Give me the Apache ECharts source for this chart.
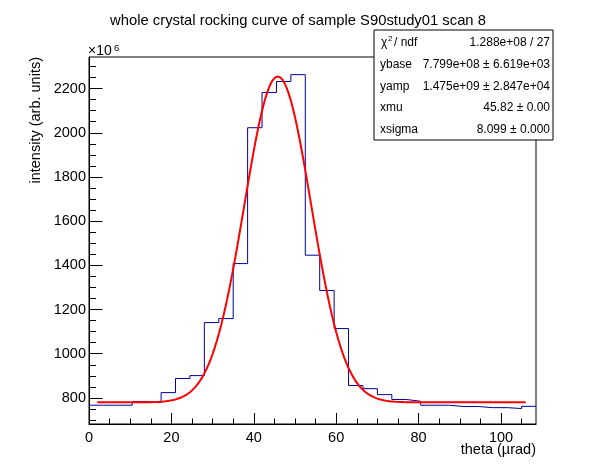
<!DOCTYPE html>
<html>
<head>
    <meta charset="UTF-8">
    <title>whole crystal rocking curve</title>
    <script src="https://cdn.jsdelivr.net/npm/echarts@6/dist/echarts.min.js"></script>
    <style>
        html, body { margin: 0; padding: 0; background: #fff; }
        #chart { width: 596px; height: 472px; }
    </style>
</head>
<body>
<div id="chart"></div>
<script type="text/javascript">
    // histogram: 31 bins of 3.5 urad starting at 0, values in units of 1e6
    var binStart = 0;
    var binWidth = 3.5;
    var binValues = [767, 767, 767, 784, 779, 824, 888, 901, 1141, 1159,
                     1408, 2023, 2182, 2232, 2263, 1446, 1286, 1114, 856, 842,
                     815, 793, 785, 767, 767, 761, 761, 756, 756, 752, 762];

    // gaussian fit parameters (from the stats box), amplitude in units of 1e6
    var ybase = 779.9;
    var yamp = 1475;
    var xmu = 45.82;
    var xsigma = 8.099;
    var fitFrom = 2;
    var fitTo = 106;

    var statNames = ['', 'ybase', 'yamp', 'xmu', 'xsigma'];
    var statValues = ['1.288e+08 / 27', '7.799e+08 \u00b1 6.619e+03', '1.475e+09 \u00b1 2.847e+04',
                      '45.82 \u00b1 0.00', '8.099 \u00b1 0.000'];

    var xMajor = [0, 20, 40, 60, 80, 100];
    var xMinor = [];
    for (var i = 0; i <= 105; i += 5) xMinor.push(i);
    var yMajor = [800, 1000, 1200, 1400, 1600, 1800, 2000, 2200];
    var yMinor = [];
    for (var i = 700; i <= 2300; i += 50) yMinor.push(i);

    var xMax = binStart + binWidth * binValues.length;
    var yMin = 682, yMax = 2343;

    var histData = [];
    for (var i = 0; i < binValues.length; i++) {
        histData.push([binStart + i * binWidth, binValues[i]]);
    }
    histData.push([xMax, binValues[binValues.length - 1]]);

    var fitData = [];
    for (var x = fitFrom; x <= fitTo + 1e-9; x += 0.5) {
        var t = (x - xmu) / xsigma;
        fitData.push([x, ybase + yamp * Math.exp(-0.5 * t * t)]);
    }

    var font = 'Liberation Sans, Arial, Helvetica, sans-serif';

    function txt(x, y, s, size, align, vAlign) {
        return {
            type: 'text', x: x, y: y,
            style: {text: s, fontSize: size, fontFamily: font, fill: '#000',
                textAlign: align || 'left', textVerticalAlign: vAlign || 'middle'}
        };
    }

    var statGraphics = [{
        type: 'rect',
        shape: {x: 374, y: 30, width: 179, height: 110},
        style: {fill: '#fff', stroke: '#000', lineWidth: 1}
    }];
    for (var i = 0; i < statNames.length; i++) {
        var cy = 43 + i * 21.7;
        if (i === 0) {
            statGraphics.push(txt(381, cy, '\u03c7', 12));
            statGraphics.push(txt(388, cy - 4, '2', 8));
            statGraphics.push(txt(394, cy, '/ ndf', 12));
        } else {
            statGraphics.push(txt(380, cy, statNames[i], 12));
        }
        statGraphics.push(txt(550, cy, statValues[i], 12, 'right'));
    }

    var chart = echarts.init(document.getElementById('chart'));
    chart.setOption({
        animation: false,
        backgroundColor: '#fff',
        title: {
            text: 'whole crystal rocking curve of sample S90study01 scan 8',
            left: 'center',
            top: 8,
            textStyle: {fontSize: 14.8, fontWeight: 'normal', color: '#000', fontFamily: font}
        },
        grid: {
            left: 89, top: 57, right: 60, bottom: 48,
            show: true, borderColor: '#000', borderWidth: 1, backgroundColor: 'transparent'
        },
        xAxis: [{
            type: 'value', min: 0, max: xMax, position: 'bottom',
            axisLine: {show: true, lineStyle: {color: '#000', width: 1}},
            axisTick: {show: true, inside: true, length: 11, customValues: xMajor, lineStyle: {color: '#000'}},
            axisLabel: {customValues: xMajor, color: '#000', fontSize: 14.5, fontFamily: font, margin: 6,
                formatter: function (v) { return String(v); }},
            splitLine: {show: false}
        }, {
            type: 'value', min: 0, max: xMax, position: 'bottom',
            axisLine: {show: false},
            axisTick: {show: true, inside: true, length: 5.5, customValues: xMinor, lineStyle: {color: '#000'}},
            axisLabel: {show: false},
            splitLine: {show: false}
        }],
        yAxis: [{
            type: 'value', min: yMin, max: yMax, position: 'left',
            axisLine: {show: true, lineStyle: {color: '#000', width: 1}},
            axisTick: {show: true, inside: true, length: 13.5, customValues: yMajor, lineStyle: {color: '#000'}},
            axisLabel: {customValues: yMajor, color: '#000', fontSize: 14.5, fontFamily: font, margin: 3,
                formatter: function (v) { return String(v); }},
            splitLine: {show: false}
        }, {
            type: 'value', min: yMin, max: yMax, position: 'left',
            axisLine: {show: false},
            axisTick: {show: true, inside: true, length: 7, customValues: yMinor, lineStyle: {color: '#000'}},
            axisLabel: {show: false},
            splitLine: {show: false}
        }],
        graphic: [
            txt(88, 58, '\u00d710', 14, 'left', 'bottom'),
            txt(114, 43, '6', 9.5, 'left', 'top'),
            txt(536, 450, 'theta (\u00b5rad)', 14.5, 'right'),
            {
                type: 'text', x: 36, y: 57, rotation: Math.PI / 2,
                style: {text: 'intensity (arb. units)', fontSize: 14.5, fontFamily: font, fill: '#000',
                    textAlign: 'right', textVerticalAlign: 'middle'}
            },
            {type: 'group', z: 100, children: statGraphics}
        ],
        series: [{
            type: 'line',
            xAxisIndex: 0, yAxisIndex: 0,
            data: histData,
            step: 'end',
            showSymbol: false,
            lineStyle: {color: '#000099', width: 1},
            z: 2
        }, {
            type: 'line',
            xAxisIndex: 0, yAxisIndex: 0,
            data: fitData,
            showSymbol: false,
            lineStyle: {color: '#ff0000', width: 2},
            z: 3
        }]
    });
</script>
</body>
</html>
